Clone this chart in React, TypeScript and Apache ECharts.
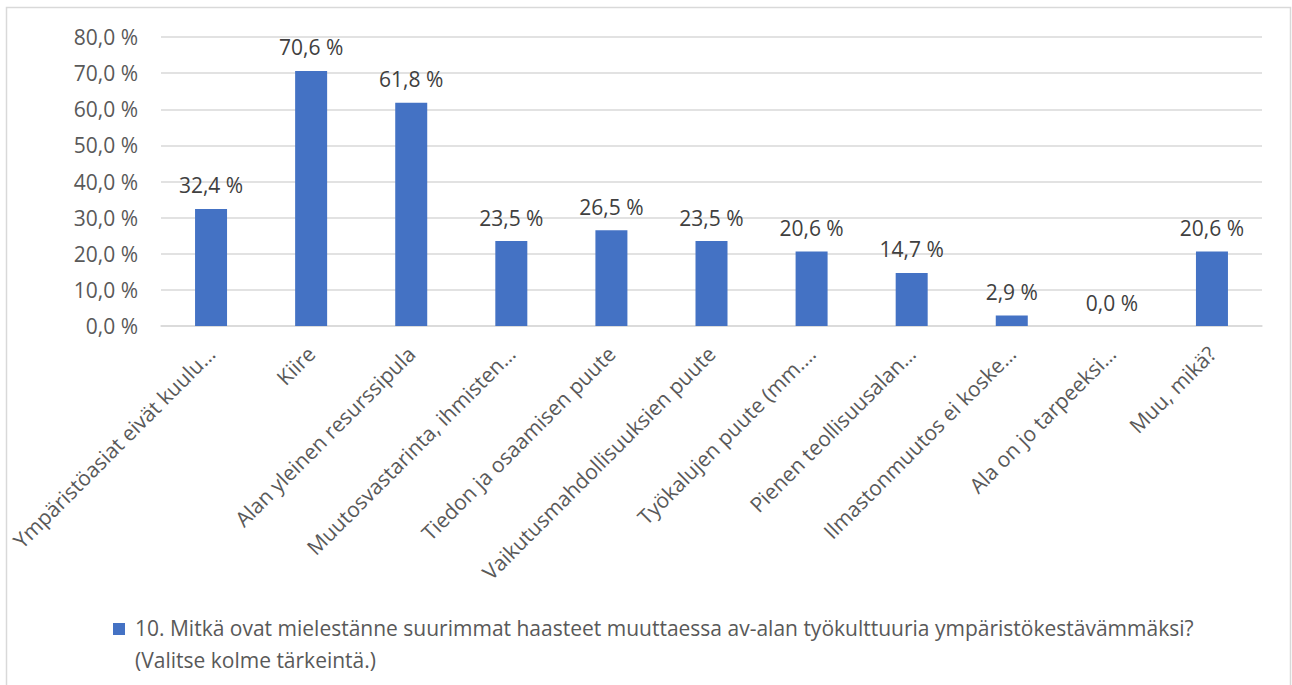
import React, { useEffect, useRef } from "react";
import * as echarts from "echarts";

const categories = [
  "Ympäristöasiat eivät kuulu…",
  "Kiire",
  "Alan yleinen resurssipula",
  "Muutosvastarinta, ihmisten…",
  "Tiedon ja osaamisen puute",
  "Vaikutusmahdollisuuksien puute",
  "Työkalujen puute (mm.…",
  "Pienen teollisuusalan…",
  "Ilmastonmuutos ei koske…",
  "Ala on jo tarpeeksi…",
  "Muu, mikä?",
];
const values = [32.4, 70.6, 61.8, 23.5, 26.5, 23.5, 20.6, 14.7, 2.9, 0.0, 20.6];
const seriesName =
  "10. Mitkä ovat mielestänne suurimmat haasteet muuttaessa av-alan työkulttuuria ympäristökestävämmäksi?\n(Valitse kolme tärkeintä.)";

const FONT = "'Open Sans', 'Noto Sans', sans-serif";
const FS = 21;
const fmt = (v: number) => v.toFixed(1).replace(".", ",") + " %";

export default function App() {
  const ref = useRef<HTMLDivElement>(null);
  useEffect(() => {
    document.body.style.margin = "0";
    if (!ref.current) return;
    const chart = echarts.init(ref.current, undefined, { renderer: "svg" });
    chart.setOption({
      animation: false,
      backgroundColor: "#ffffff",
      textStyle: { fontFamily: FONT },
      grid: { left: 161, right: 30, top: 37, bottom: 359, containLabel: false },
      xAxis: {
        type: "category",
        data: categories,
        axisLine: { lineStyle: { color: "#d9d9d9", width: 1.5 } },
        axisTick: { show: false },
        axisLabel: {
          rotate: 45,
          interval: 0,
          margin: 24,
          color: "#595959",
          fontSize: FS,
          fontFamily: FONT,
        },
      },
      yAxis: {
        type: "value",
        min: 0,
        max: 80,
        interval: 10,
        axisLine: { show: false },
        axisTick: { show: false },
        splitLine: { lineStyle: { color: "#d9d9d9", width: 1.5 } },
        axisLabel: {
          margin: 23,
          color: "#595959",
          fontSize: FS,
          fontFamily: FONT,
          formatter: (v: number) => fmt(v),
        },
      },
      series: [
        {
          type: "bar",
          name: seriesName,
          data: values,
          barWidth: 32,
          itemStyle: { color: "#4472C4" },
          label: {
            show: true,
            position: "top",
            distance: 13,
            color: "#404040",
            fontSize: FS,
            fontFamily: FONT,
            formatter: (p: any) => fmt(p.value),
          },
        },
      ],
      graphic: [
        {
          type: "rect",
          shape: { x: 6.5, y: 7.5, width: 1284, height: 700 },
          style: { fill: "none", stroke: "#d9d9d9", lineWidth: 1.5 },
          silent: true,
        },
        {
          type: "rect",
          shape: { x: 113, y: 623, width: 12, height: 12 },
          style: { fill: "#4472C4" },
        },
        {
          type: "text",
          x: 135,
          y: 612,
          style: {
            text: seriesName,
            fill: "#595959",
            font: `${FS}px ${FONT}`,
            lineHeight: 32,
            textVerticalAlign: "top",
          },
        },
      ],
    });
    return () => chart.dispose();
  }, []);
  return <div ref={ref} style={{ width: 1292, height: 685 }} />;
}
